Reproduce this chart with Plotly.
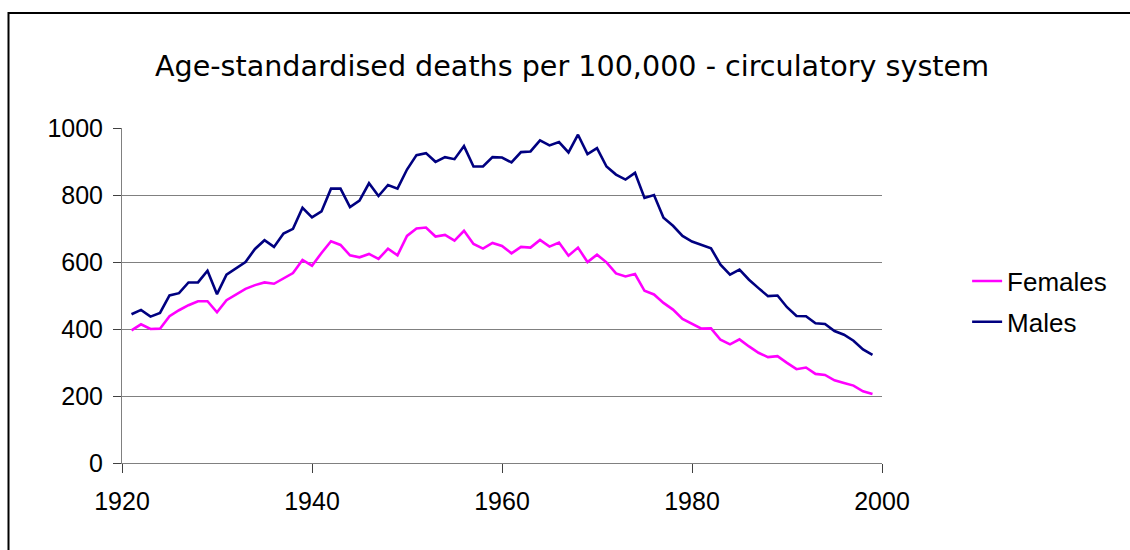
import plotly.graph_objects as go

years = list(range(1921, 2000))

females = [396, 414, 400, 401, 438, 456, 471, 483, 483, 450,
           486, 503, 520, 531, 539, 535, 551, 567, 606, 589,
           627, 662, 651, 620, 614, 624, 609, 640, 620, 678,
           700, 703, 676, 681, 664, 693, 654, 640, 657, 648,
           626, 645, 643, 666, 646, 658, 619, 643, 600, 622,
           599, 566, 557, 564, 514, 503, 478, 458, 430, 416,
           401, 402, 368, 354, 369, 348, 329, 316, 319, 299,
           280, 285, 266, 263, 247, 239, 231, 214, 206]

males = [444, 457, 437, 448, 500, 507, 539, 539, 574, 504,
         562, 582, 600, 639, 665, 645, 685, 699, 762, 733,
         751, 819, 819, 764, 783, 835, 797, 830, 819, 876,
         919, 925, 899, 913, 907, 946, 885, 885, 913, 912,
         897, 928, 930, 963, 948, 958, 927, 980, 922, 940,
         885, 861, 846, 866, 791, 800, 732, 708, 678, 661,
         652, 641, 592, 562, 577, 547, 522, 498, 500, 465,
         439, 438, 417, 415, 394, 383, 365, 339, 323]

title_text = "Age-standardised deaths per 100,000 - circulatory system"
x_ticks = [1920, 1940, 1960, 1980, 2000]
y_ticks = [0, 200, 400, 600, 800, 1000]

FONT = "Liberation Sans, Arial, sans-serif"

fig = go.Figure()
fig.add_trace(go.Scatter(x=years, y=females, mode="lines", name="Females",
                         legendgroup="f",
                         line=dict(color="#FF00FF", width=2.6)))
fig.add_trace(go.Scatter(x=years, y=males, mode="lines", name="Males",
                         legendgroup="m",
                         line=dict(color="#000080", width=2.6)))

fig.update_layout(
    width=1130, height=550,
    margin=dict(l=122, r=248, t=128, b=87),
    paper_bgcolor="white", plot_bgcolor="white",
    font=dict(family=FONT, size=25, color="black"),
    showlegend=True,
    legend=dict(x=1.112, xanchor="left", y=0.482, yanchor="middle",
                font=dict(family=FONT, size=26, color="black"),
                bgcolor="rgba(0,0,0,0)", borderwidth=0,
                traceorder="grouped", tracegroupgap=4),
    xaxis=dict(range=[1920, 2000], tickmode="array", tickvals=x_ticks,
               ticktext=[str(v) for v in x_ticks],
               showgrid=False, zeroline=False,
               showline=True, linecolor="#808080", linewidth=1,
               ticks="outside", ticklen=9, tickcolor="#404040", tickwidth=1,
               tickfont=dict(family=FONT, size=25, color="black"),
               ticklabelstandoff=7),
    yaxis=dict(range=[0, 1000], tickmode="array", tickvals=y_ticks,
               ticktext=[str(v) for v in y_ticks],
               showgrid=True, gridcolor="#808080", gridwidth=1,
               zeroline=False,
               showline=True, linecolor="#808080", linewidth=1,
               ticks="outside", ticklen=8, tickcolor="#404040", tickwidth=1,
               tickfont=dict(family=FONT, size=25, color="black"),
               ticklabelstandoff=5),
)

fig.add_annotation(text=title_text, xref="paper", yref="paper",
                   x=(572 - 122) / 760, y=1 + (128.3 - 66) / 335.2,
                   xanchor="center", yanchor="middle", showarrow=False,
                   font=dict(family="DejaVu Sans, sans-serif", size=28.6, color="black"))

# outer chart-area border (cut off at right and bottom like the reference)
fig.add_shape(type="rect", xref="paper", yref="paper",
              x0=(8.5 - 122) / 760, x1=(1140 - 122) / 760,
              y0=-(560 - 463.5) / 335.2, y1=1 + (128.3 - 13.3) / 335.2,
              line=dict(color="black", width=2), fillcolor="rgba(0,0,0,0)",
              layer="below")

fig.write_html("out.html",
               config={"displayModeBar": False},
               post_script="document.body.style.margin='0';"
                           "document.body.style.overflow='hidden';")
